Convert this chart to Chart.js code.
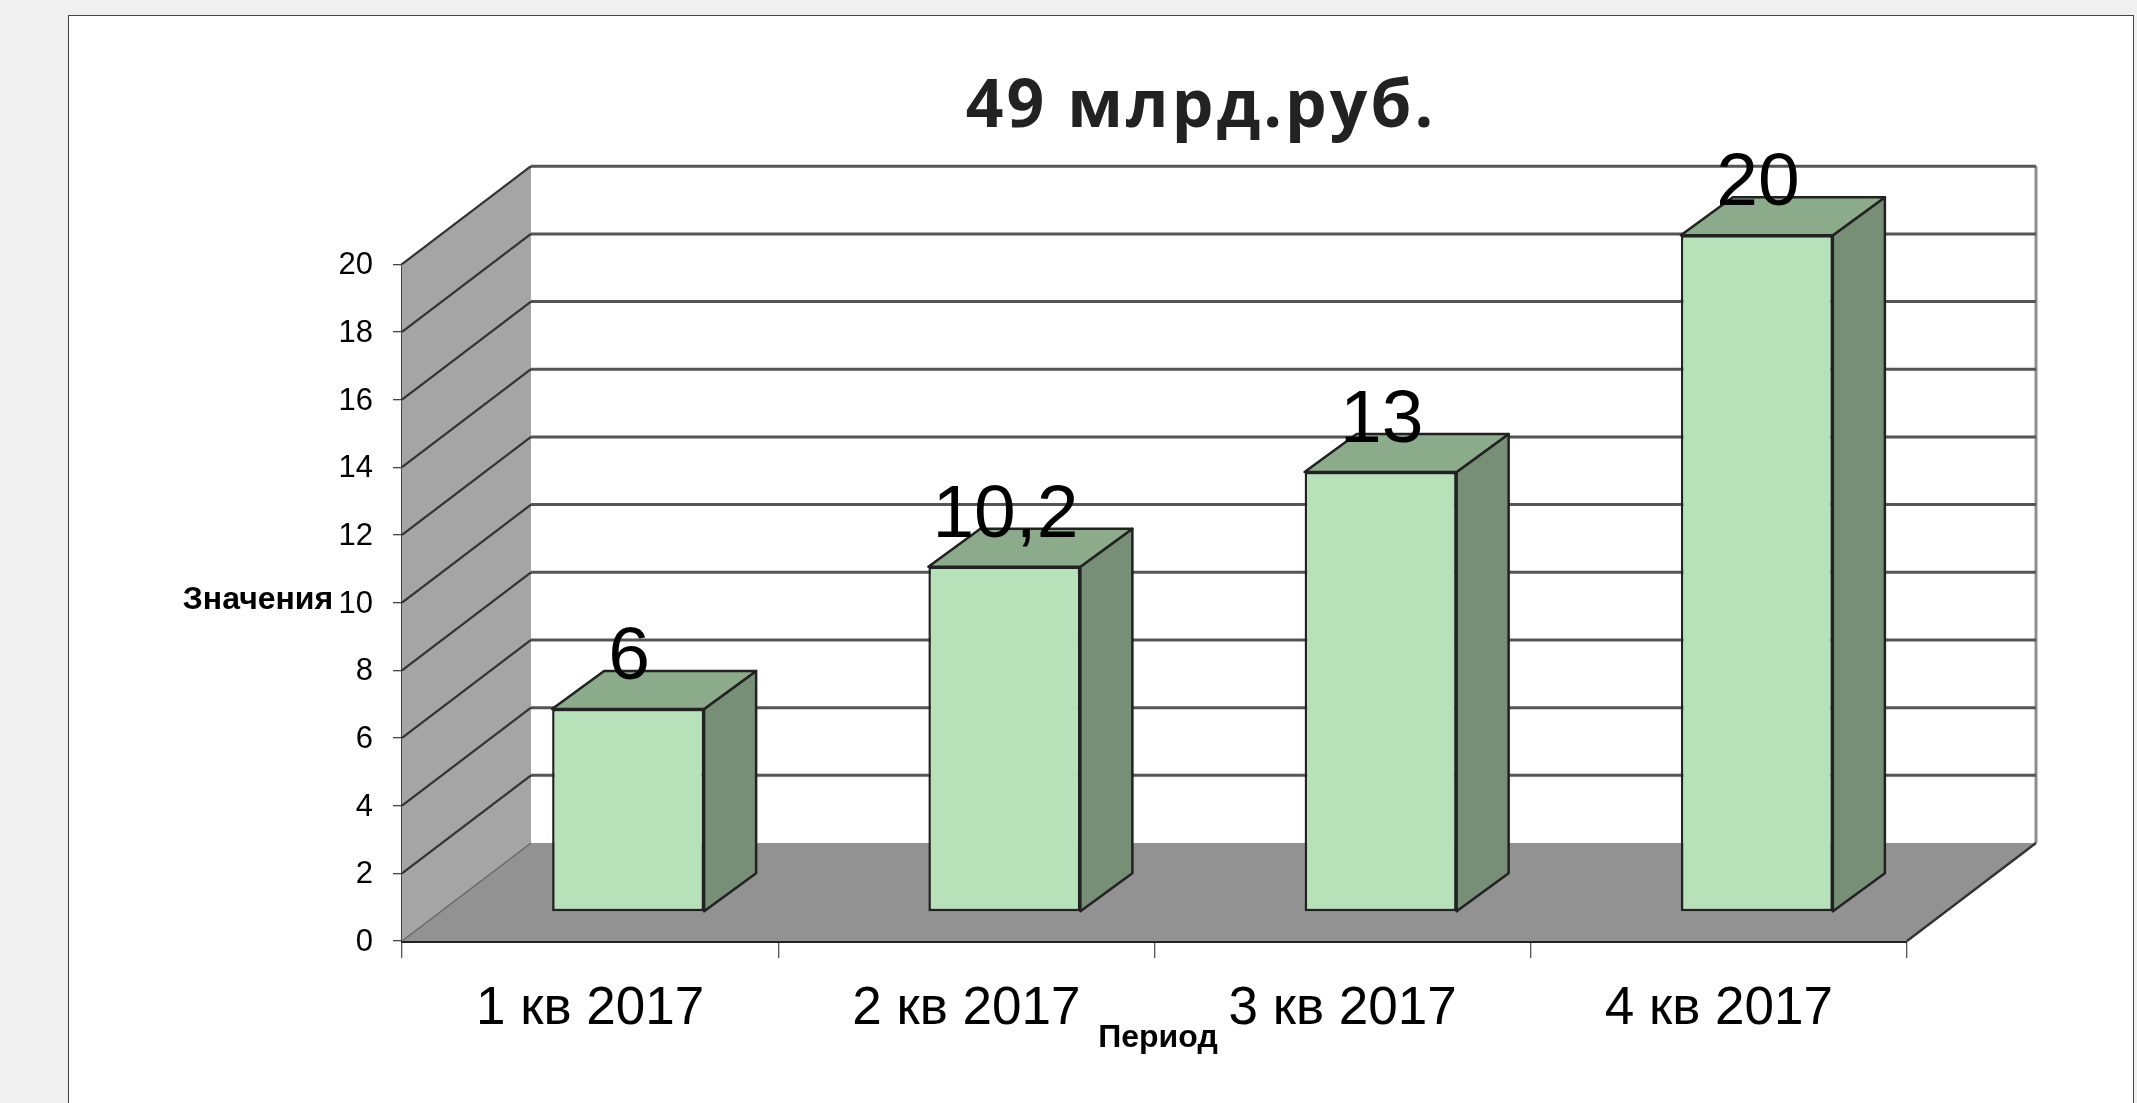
<!DOCTYPE html>
<html><head><meta charset="utf-8">
<script src="https://cdn.jsdelivr.net/npm/chart.js@4"></script>
<style>
html,body{margin:0;padding:0;width:2137px;height:1103px;overflow:hidden;background:#f0f0f0}
#frame{position:absolute;left:68px;top:15px;width:2066px;height:1200px;background:#fff;border:1.5px solid #444;box-sizing:border-box}
canvas{position:absolute;left:0;top:0}
</style></head>
<body>
<div id="frame"></div>
<canvas id="c" width="2137" height="1103"></canvas>
<script>
const categories = ["1 кв 2017", "2 кв 2017", "3 кв 2017", "4 кв 2017"];
const values = [6, 10.2, 13, 20];
const chartTitle = "49 млрд.руб.";
const xTitle = "Период";
const yTitle = "Значения";

const WALL = {dx:129, dy:-98};      // depth of the 3D box
const BAR_SHIFT = {dx:38, dy:-29};  // bars stand inside the floor
const BAR_DEPTH = {dx:52, dy:-38};

const fake3d = {
  id:'fake3d',
  afterLayout(chart){
    const tb = chart.titleBlock;
    if(tb && !tb._patched){
      tb._patched = true;
      const d = tb.draw;
      tb.draw = function(){
        const c = chart.ctx;
        c.letterSpacing = '3px';
        d.call(tb);
        c.letterSpacing = '0px';
      };
      const sx = chart.scales.x, dt = sx.drawTitle;
      sx.drawTitle = function(){
        const c = chart.ctx;
        c.save();c.translate(3.5,0);
        dt.call(sx);
        c.restore();
      };
    }
    if(tb){ const w = tb.right - tb.left; tb.left = 1201 - w/2; tb.right = 1201 + w/2; }
  },
  beforeDatasetsDraw(chart){
    const c = chart.ctx, a = chart.chartArea, y = chart.scales.y;
    const L=a.left, R=a.right, B=y.getPixelForValue(0), T=y.getPixelForValue(20);
    const dx=WALL.dx, dy=WALL.dy;
    c.save();
    // back wall
    c.fillStyle='#fff';
    c.fillRect(L+dx,T+dy,R-L,B-T);
    // left wall
    c.fillStyle='#a5a5a5';
    c.beginPath();c.moveTo(L,B);c.lineTo(L+dx,B+dy);c.lineTo(L+dx,T+dy);c.lineTo(L,T);c.closePath();c.fill();
    // floor
    c.fillStyle='#929292';
    c.beginPath();c.moveTo(L,B);c.lineTo(R,B);c.lineTo(R+dx,B+dy);c.lineTo(L+dx,B+dy);c.closePath();c.fill();
    // right edge of back wall
    c.strokeStyle='#8f8f8f';c.lineWidth=3;
    c.beginPath();c.moveTo(R+dx,T+dy);c.lineTo(R+dx,B+dy);c.stroke();
    // grid
    y.ticks.forEach(t=>{
      const p=y.getPixelForValue(t.value);
      if(t.value>0){
        c.strokeStyle='#555';c.lineWidth=3;
        c.beginPath();c.moveTo(L+dx,p+dy);c.lineTo(R+dx,p+dy);c.stroke();
      }
      c.strokeStyle=t.value>0?'#333':'#666';c.lineWidth=t.value>0?2.2:1.4;
      c.beginPath();c.moveTo(L,p);c.lineTo(L+dx,p+dy);c.stroke();
    });
    // floor right edge
    c.strokeStyle='#333';c.lineWidth=2.4;
    c.beginPath();c.moveTo(R,B);c.lineTo(R+dx,B+dy);c.stroke();
    c.restore();
    c.save();
    c.translate(BAR_SHIFT.dx,BAR_SHIFT.dy);
  },
  afterDatasetsDraw(chart){
    const c = chart.ctx, meta = chart.getDatasetMeta(0);
    const dx=BAR_DEPTH.dx, dy=BAR_DEPTH.dy;
    c.restore();
    c.save();
    c.strokeStyle='#222';c.lineWidth=2.5;c.lineJoin='round';
    meta.data.forEach(el=>{
      const p=el.getProps(['x','y','base','width'],true);
      const l=p.x-p.width/2+BAR_SHIFT.dx, r=p.x+p.width/2+BAR_SHIFT.dx;
      const t=p.y+BAR_SHIFT.dy, b=p.base+BAR_SHIFT.dy;
      c.fillStyle='#778f76';
      c.beginPath();c.moveTo(r,t);c.lineTo(r+dx,t+dy);c.lineTo(r+dx,b+dy);c.lineTo(r,b);c.closePath();c.fill();c.stroke();
      c.fillStyle='#8cab8b';
      c.beginPath();c.moveTo(l,t);c.lineTo(l+dx,t+dy);c.lineTo(r+dx,t+dy);c.lineTo(r,t);c.closePath();c.fill();c.stroke();
    });
    // value labels
    c.fillStyle='#000';c.font='75px "Liberation Sans"';c.textAlign='center';c.textBaseline='alphabetic';
    meta.data.forEach((el,i)=>{
      const p=el.getProps(['x','y'],true);
      c.fillText(String(values[i]).replace('.',','),p.x+BAR_SHIFT.dx+1,p.y+BAR_SHIFT.dy-30);
    });
    // horizontal value-axis title
    c.font='bold 32px "Liberation Sans"';c.textBaseline='middle';
    c.fillText(yTitle,258,600);
    c.restore();
  }
};

new Chart(document.getElementById('c'),{
  type:'bar',
  data:{labels:categories,datasets:[{
    data:values,
    backgroundColor:'#b7e1b9',
    borderColor:'#222',
    borderWidth:2.5,
    borderSkipped:false,
    barPercentage:0.404,
    categoryPercentage:1,
    clip:false
  }]},
  plugins:[fake3d],
  options:{
    responsive:false,
    animation:false,
    layout:{padding:{left:0,right:230,top:0,bottom:0}},
    plugins:{
      legend:{display:false},
      tooltip:{enabled:false},
      title:{display:true,text:chartTitle,color:'#222',
        font:{family:'"Open Sans"',size:66,weight:'bold',lineHeight:1.2},
        padding:{top:69,bottom:116}}
    },
    scales:{
      x:{
        z:1,
        afterFit(s){s.height=162;},
        grid:{drawOnChartArea:false,drawTicks:true,tickLength:17,color:'#555',lineWidth:1.3},
        border:{color:'#222',width:3},
        ticks:{color:'#000',font:{family:'"Liberation Sans"',size:53},padding:20,autoSkip:false,maxRotation:0},
        title:{display:true,text:xTitle,color:'#000',font:{family:'"Liberation Sans"',size:32,weight:'bold'},padding:{top:0,bottom:46}}
      },
      y:{
        z:1,
        min:0,max:20,
        afterFit(s){s.width=402;},
        grid:{drawOnChartArea:false,drawTicks:true,tickLength:9,color:'#444',lineWidth:1.3},
        border:{color:'#444',width:2},
        ticks:{stepSize:2,color:'#000',font:{family:'"Liberation Sans"',size:31},padding:20,labelOffset:1.5}
      }
    }
  }
});
</script>
</body></html>
